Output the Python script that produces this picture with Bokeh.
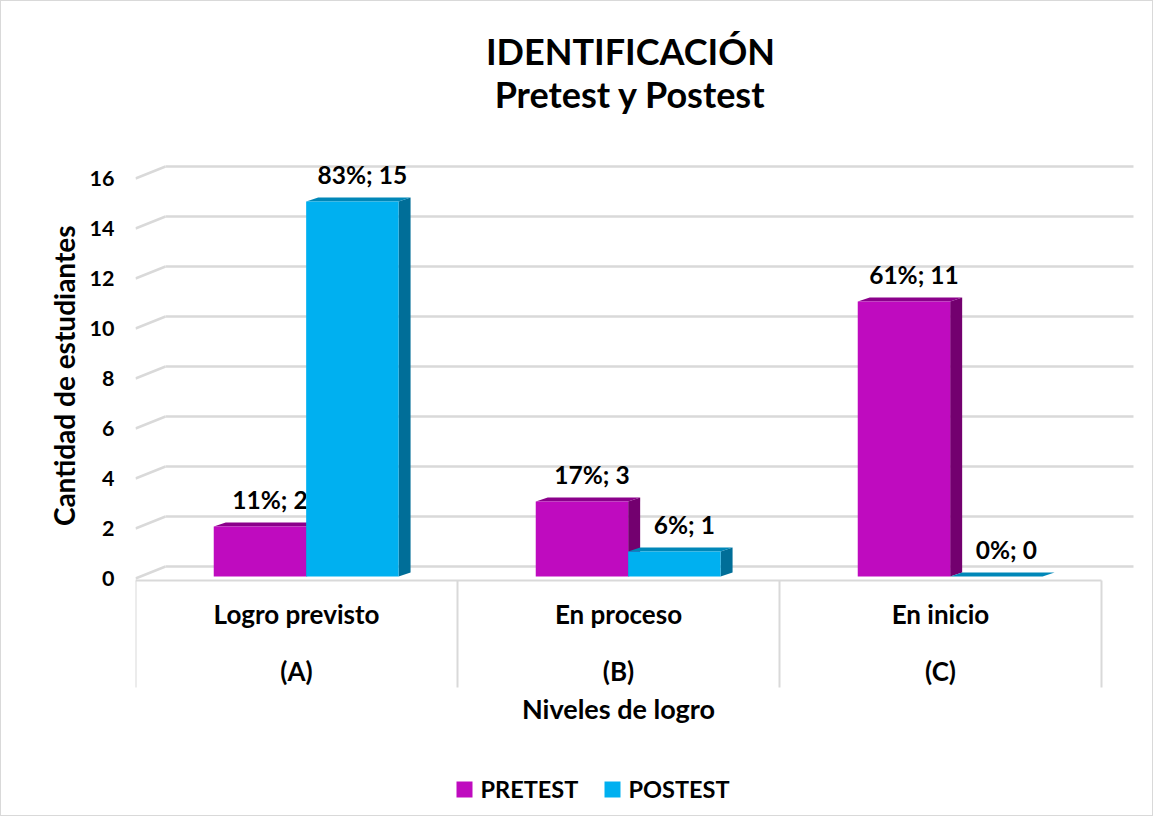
import math
from bokeh.plotting import figure
from bokeh.models import Range1d, FixedTicker, Label, Title
from bokeh.embed import file_html
from bokeh.resources import INLINE
from bokeh.core.properties import value

# ---------------- data ----------------
categories = ["Logro previsto", "En proceso", "En inicio"]
category_codes = ["(A)", "(B)", "(C)"]
series_names = ["PRETEST", "POSTEST"]
pretest = [2, 3, 11]
postest = [15, 1, 0]
pretest_pct = ["11%", "17%", "61%"]
postest_pct = ["83%", "6%", "0%"]
y_ticks = [0, 2, 4, 6, 8, 10, 12, 14, 16]

title_lines = ["IDENTIFICACIÓN", "Pretest y Postest"]
y_title = "Cantidad de estudiantes"
x_title = "Niveles de logro"

# ---------------- styling ----------------
FONT = "Lato"
PRE_COLORS = ("#BF0BBF", "#8B008B", "#73006F")   # front, top, side
POST_COLORS = ("#00B0F0", "#0087B8", "#006E98")
GRID = "#D9D9D9"

W, H = 1153, 816
PAGE = 8
FRAME_LEFT_IMG = 142
ZERO_IMG = 585
PX_CAT = 322.0
PX_UNIT = 25.0


def X(px):
    return (px - FRAME_LEFT_IMG) / PX_CAT


def Y(py):
    return (ZERO_IMG - py) / PX_UNIT


p = figure(width=W, height=H,
           x_range=Range1d(0, X(PAGE + W)), y_range=Range1d(Y(PAGE + H), Y(PAGE)),
           output_backend="svg", toolbar_location=None, x_axis_location=None,
           min_border_left=FRAME_LEFT_IMG - PAGE, min_border_right=0,
           min_border_top=0, min_border_bottom=0,
           styles={"border": "1px solid #D9D9D9"})
p.outline_line_color = None
p.background_fill_color = "white"
p.border_fill_color = "white"
p.ygrid.grid_line_color = None
p.xgrid.visible = False

# y axis
p.yaxis.ticker = FixedTicker(ticks=y_ticks)
p.yaxis.axis_line_color = None
p.yaxis.major_tick_line_color = None
p.yaxis.minor_tick_line_color = None
p.yaxis.major_label_standoff = 15
p.yaxis.major_label_text_font = FONT
p.yaxis.major_label_text_font_style = "bold"
p.yaxis.major_label_text_font_size = "21.5px"
p.yaxis.major_label_text_color = "black"

# y axis title: a side title, its upper end placed where the reference has it
p.add_layout(Title(text=y_title, align="right", offset=224, vertical_align="middle",
                   standoff=10, text_font=FONT, text_font_style="bold",
                   text_font_size="28px", text_color="black"), "left")

# ---------------- 3D walls / gridlines ----------------
n = len(categories)
WALL_DX = 30 / PX_CAT
WALL_DY = 12 / PX_UNIT
BACK_RIGHT = X(1140)
p.segment(x0=[0] * len(y_ticks), y0=y_ticks,
          x1=[WALL_DX] * len(y_ticks), y1=[t + WALL_DY for t in y_ticks],
          line_color=GRID, line_width=2.5)
p.segment(x0=[WALL_DX] * len(y_ticks), y0=[t + WALL_DY for t in y_ticks],
          x1=[BACK_RIGHT] * len(y_ticks), y1=[t + WALL_DY for t in y_ticks],
          line_color=GRID, line_width=2.5)

# floor front edge and category separators
FLOOR = Y(587)
SEP_BOTTOM = Y(694)
p.segment(x0=[0], y0=[FLOOR], x1=[n], y1=[FLOOR], line_color=GRID, line_width=2)
p.segment(x0=list(range(n + 1)), y0=[FLOOR] * (n + 1),
          x1=list(range(n + 1)), y1=[SEP_BOTTOM] * (n + 1),
          line_color=GRID, line_width=2)

# ---------------- bars ----------------
BAR_W = 0.287
OFFSETS = [0.243, 0.243 + BAR_W]
BASE = Y(583)
DX = 12 / PX_CAT
DY = 4 / PX_UNIT

for vals, pcts, off, cols in [(pretest, pretest_pct, OFFSETS[0], PRE_COLORS),
                              (postest, postest_pct, OFFSETS[1], POST_COLORS)]:
    lefts = [i + off for i in range(n)]
    rights = [l + BAR_W for l in lefts]
    tops = [v + BASE for v in vals]
    # side faces
    p.patches(xs=[[r, r + DX, r + DX, r] for r in rights],
              ys=[[BASE, BASE + DY, t + DY, t] for t in tops],
              fill_color=cols[2], line_color=None)
    # top faces
    p.patches(xs=[[l, l + DX, r + DX, r] for l, r in zip(lefts, rights)],
              ys=[[t, t + DY, t + DY, t] for t in tops],
              fill_color=cols[1], line_color=None)
    # front faces
    p.quad(left=lefts, right=rights, bottom=[BASE] * n, top=tops,
           fill_color=cols[0], line_color=None)
    # data labels
    p.text(x=[(l + r) / 2 for l, r in zip(lefts, rights)], y=tops,
           text=[f"{pc}; {v}" for pc, v in zip(pcts, vals)],
           x_offset=10, y_offset=-27,
           text_align="center", text_baseline="middle",
           text_font=value(FONT), text_font_style="bold",
           text_font_size="24.5px", text_color="black")

# ---------------- category labels ----------------
centers = [i + 0.5 for i in range(n)]
p.text(x=centers, y=[Y(620.5)] * n, text=categories,
       text_align="center", text_baseline="middle",
       text_font=value(FONT), text_font_style="bold",
       text_font_size="26px", text_color="black")
p.text(x=centers, y=[Y(677)] * n, text=category_codes,
       text_align="center", text_baseline="middle",
       text_font=value(FONT), text_font_style="bold",
       text_font_size="26px", text_color="black")

# ---------------- titles ----------------
for line, mid in zip(title_lines, [57, 100]):
    p.add_layout(Label(x=X(637), y=Y(mid), text=line,
                       text_align="center", text_baseline="middle",
                       text_font=FONT, text_font_style="bold",
                       text_font_size="36px", text_color="black"))

p.add_layout(Label(x=n / 2, y=Y(714.5), text=x_title,
                   text_align="center", text_baseline="middle",
                   text_font=FONT, text_font_style="bold",
                   text_font_size="27px", text_color="black"))

# ---------------- legend ----------------
leg_sq_x = [X(471), X(619)]
leg_y = Y(796)
p.scatter(x=leg_sq_x, y=[leg_y] * 2, marker="square", size=16,
          fill_color=[PRE_COLORS[0], POST_COLORS[0]], line_color=None)
p.text(x=[X(487), X(635)], y=[Y(795)] * 2, text=series_names,
       text_align="left", text_baseline="middle",
       text_font=value(FONT), text_font_style="bold",
       text_font_size="23.5px", text_color="black")

open("out.html", "w").write(file_html(p, INLINE))
